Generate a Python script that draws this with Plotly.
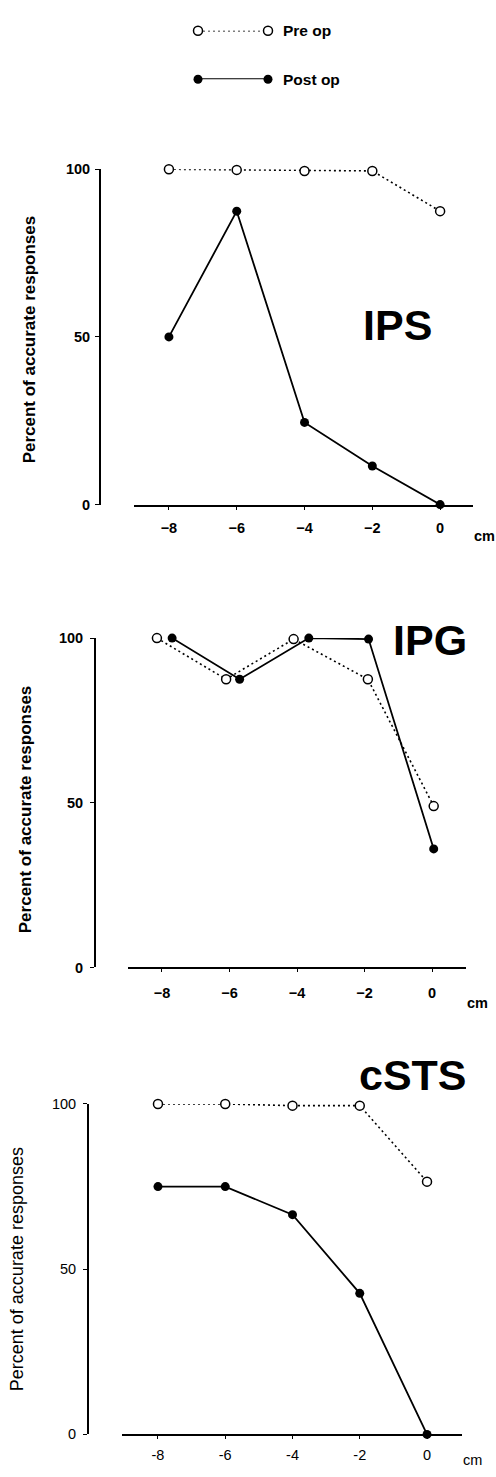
import plotly.graph_objects as go

W, H = 496, 1477

series_names = ["Pre op", "Post op"]
panel_names = ["IPS", "IPG", "cSTS"]
y_title = "Percent of accurate responses"
x_unit = "cm"

x_tick_vals = [-8, -6, -4, -2, 0]
x_tick_text_bold = ["\u22128", "\u22126", "\u22124", "\u22122", "0"]
x_tick_text_plain = ["-8", "-6", "-4", "-2", "0"]
y_tick_vals = [0, 50, 100]
y_tick_text = ["0", "50", "100"]

# IPS
ips_pre_x = [-8, -6, -4, -2, 0]
ips_pre_y = [100, 99.8, 99.5, 99.5, 87.5]
ips_post_x = [-8, -6, -4, -2, 0]
ips_post_y = [50, 87.5, 24.5, 11.5, 0]

# IPG (points slightly offset in the original)
ipg_pre_x = [-8.15, -6.1, -4.1, -1.9, 0.05]
ipg_pre_y = [100, 87.5, 99.7, 87.5, 49]
ipg_post_x = [-7.7, -5.7, -3.65, -1.88, 0.05]
ipg_post_y = [100, 87.5, 100, 99.7, 36]

# cSTS
csts_pre_x = [-8, -6, -4, -2, 0]
csts_pre_y = [100, 100, 99.5, 99.5, 76.5]
csts_post_x = [-8, -6, -4, -2, 0]
csts_post_y = [75, 75, 66.5, 42.7, 0]

def px_x(p):
    return p / W

def px_y(p):
    return 1 - p / H

panels = [
    dict(xd=(134, 473), xr=(-9.03, 0.97), yd=(163, 502), ypos=100,
         pre=(ips_pre_x, ips_pre_y), post=(ips_post_x, ips_post_y),
         bold=True, xstand=6, ystand=2, tfs=14.5, name=(397, 320), title=(29, 335), cm=(484, 534), tsize=17),
    dict(xd=(128, 466), xr=(-9.007, 1.007), yd=(637, 970), ypos=95,
         pre=(ipg_pre_x, ipg_pre_y), post=(ipg_post_x, ipg_post_y),
         bold=True, xstand=8, ystand=4, tfs=14.5, name=(430, 639), title=(25, 810), cm=(477, 1006), tsize=17),
    dict(xd=(122, 462), xr=(-9.07, 1.04), yd=(1108, 1442), ypos=88,
         pre=(csts_pre_x, csts_pre_y), post=(csts_post_x, csts_post_y),
         bold=False, xstand=3, ystand=4, tfs=14.5, name=(413, 1079), title=(17, 1275), cm=(472, 1468), tsize=18),
]

fig = go.Figure()
font_family = "Liberation Sans, Arial, sans-serif"
annotations = []

for i, p in enumerate(panels):
    n = "" if i == 0 else str(i + 1)
    xa = "x" + n
    ya = "y" + n
    pre_x, pre_y = p["pre"]
    post_x, post_y = p["post"]
    fig.add_trace(go.Scatter(
        x=pre_x, y=pre_y, xaxis=xa, yaxis=ya, mode="lines+markers",
        line=dict(color="black", width=1.6, dash="2px,3px"),
        marker=dict(symbol="circle", size=9, color="white", line=dict(color="black", width=1.5)),
        cliponaxis=False, showlegend=False, name=series_names[0]))
    fig.add_trace(go.Scatter(
        x=post_x, y=post_y, xaxis=xa, yaxis=ya, mode="lines+markers",
        line=dict(color="black", width=1.8),
        marker=dict(symbol="circle", size=9, color="black"),
        cliponaxis=False, showlegend=False, name=series_names[1]))
    weight = "bold" if p["bold"] else "normal"
    tickfont = dict(family=font_family, size=p["tfs"], color="black", weight=weight)
    fig.update_layout(**{
        "xaxis" + n: dict(
            domain=[px_x(p["xd"][0]), px_x(p["xd"][1])], range=list(p["xr"]),
            anchor=ya, showline=True, linecolor="black", linewidth=2,
            ticks="outside", ticklen=3, tickwidth=1.3, tickcolor="black",
            tickvals=x_tick_vals,
            ticktext=x_tick_text_bold if p["bold"] else x_tick_text_plain,
            tickfont=tickfont, ticklabelstandoff=p["xstand"],
            showgrid=False, zeroline=False, fixedrange=True),
        "yaxis" + n: dict(
            domain=[px_y(p["yd"][1]), px_y(p["yd"][0])], range=[0, 100],
            anchor="free", position=px_x(p["ypos"]), showline=True,
            linecolor="black", linewidth=2,
            ticks="outside", ticklen=4, tickwidth=1.3, tickcolor="black",
            tickvals=y_tick_vals, ticktext=y_tick_text,
            tickfont=tickfont, ticklabelstandoff=p["ystand"],
            showgrid=False, zeroline=False, fixedrange=True),
    })
    annotations.append(dict(
        text=panel_names[i], xref="paper", yref="paper",
        x=px_x(p["name"][0]), y=px_y(p["name"][1]), xanchor="center", yanchor="middle",
        showarrow=False, font=dict(family=font_family, size=43, color="black", weight="bold")))
    annotations.append(dict(
        text=y_title, xref="paper", yref="paper", textangle=-90,
        x=px_x(p["title"][0]), y=px_y(p["title"][1]), xanchor="center", yanchor="middle",
        showarrow=False, font=dict(family=font_family, size=p["tsize"], color="black", weight=weight)))
    annotations.append(dict(
        text=x_unit, xref="paper", yref="paper",
        x=px_x(p["cm"][0]), y=px_y(p["cm"][1]), xanchor="center", yanchor="middle",
        showarrow=False, font=dict(family=font_family, size=14.5, color="black", weight=weight)))

# legend key drawn on its own hidden axes
fig.add_trace(go.Scatter(
    x=[0, 1], y=[1, 1], xaxis="x4", yaxis="y4", mode="lines+markers",
    line=dict(color="black", width=1.6, dash="2px,3px"),
    marker=dict(symbol="circle", size=9, color="white", line=dict(color="black", width=1.5)),
    cliponaxis=False, showlegend=False, name=series_names[0]))
fig.add_trace(go.Scatter(
    x=[0, 1], y=[0, 0], xaxis="x4", yaxis="y4", mode="lines+markers",
    line=dict(color="black", width=1.8),
    marker=dict(symbol="circle", size=9, color="black"),
    cliponaxis=False, showlegend=False, name=series_names[1]))
fig.update_layout(
    xaxis4=dict(domain=[px_x(198), px_x(268)], range=[0, 1], anchor="y4", visible=False, fixedrange=True),
    yaxis4=dict(domain=[px_y(72), px_y(23)], range=[0, 1], anchor="x4", visible=False, fixedrange=True),
)
for j, (ly, nm) in enumerate(zip([1, 0], series_names)):
    annotations.append(dict(
        text=nm, xref="x4", yref="y4", x=1, y=ly, xanchor="left", yanchor="middle",
        xshift=13, showarrow=False,
        font=dict(family=font_family, size=15.5, color="black", weight="bold")))

fig.update_layout(
    width=W, height=H, margin=dict(l=0, r=0, t=0, b=0),
    paper_bgcolor="white", plot_bgcolor="white",
    showlegend=False, annotations=annotations,
)

fig.write_html(
    "out.html",
    config={"displayModeBar": False},
    post_script="document.body.style.margin='0';document.body.style.padding='0';document.body.style.overflow='hidden';",
)
